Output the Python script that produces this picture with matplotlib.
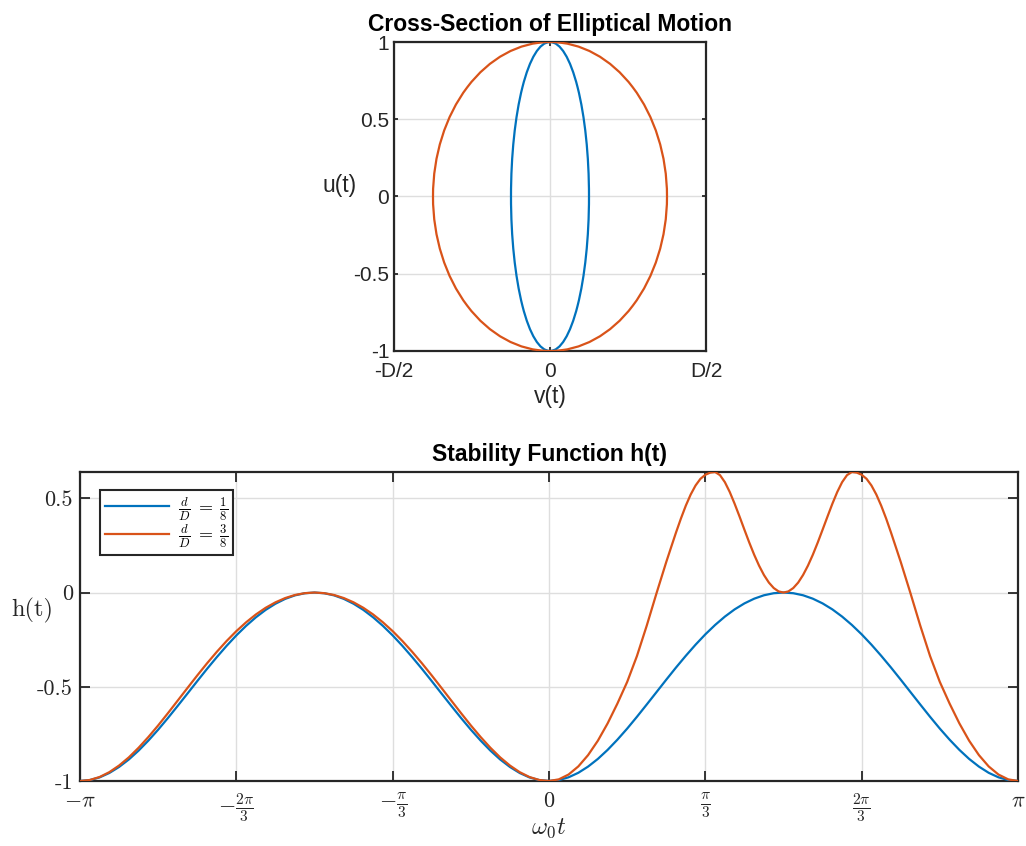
import matplotlib
matplotlib.use("Agg")
import matplotlib.pyplot as plt
from matplotlib.patches import Ellipse
import numpy as np

plt.rcParams['mathtext.fontset'] = 'cm'
plt.rcParams['axes.unicode_minus'] = False

# ---------------- data ----------------
ratios = [1/8, 3/8]                      # d/D for the two cases
legend_labels = [r'$\frac{d}{D}\;=\;\frac{1}{8}$', r'$\frac{d}{D}\;=\;\frac{3}{8}$']
colors = ['#0072BD', '#D95319']

# omega_0 t in units of pi (blue sampled every pi/48)
t_blue = [-1, -0.9792, -0.9583, -0.9375, -0.9167, -0.8958, -0.875, -0.8542, -0.8333, -0.8125,
          -0.7917, -0.7708, -0.75, -0.7292, -0.7083, -0.6875, -0.6667, -0.6458, -0.625, -0.6042,
          -0.5833, -0.5625, -0.5417, -0.5208, -0.5, -0.4792, -0.4583, -0.4375, -0.4167, -0.3958,
          -0.375, -0.3542, -0.3333, -0.3125, -0.2917, -0.2708, -0.25, -0.2292, -0.2083, -0.1875,
          -0.1667, -0.1458, -0.125, -0.1042, -0.0833, -0.0625, -0.0417, -0.0208,
          0, 0.0208, 0.0417, 0.0625, 0.0833, 0.1042, 0.125, 0.1458, 0.1667, 0.1875, 0.2083,
          0.2292, 0.25, 0.2708, 0.2917, 0.3125, 0.3333, 0.3542, 0.375, 0.3958, 0.4167, 0.4375,
          0.4583, 0.4792, 0.5, 0.5208, 0.5417, 0.5625, 0.5833, 0.6042, 0.625, 0.6458, 0.6667,
          0.6875, 0.7083, 0.7292, 0.75, 0.7708, 0.7917, 0.8125, 0.8333, 0.8542, 0.875, 0.8958,
          0.9167, 0.9375, 0.9583, 0.9792, 1]
h_blue = [-1, -0.9952, -0.9810, -0.9575, -0.9255, -0.8856, -0.8386, -0.7855, -0.7275, -0.6657,
          -0.6014, -0.5358, -0.47, -0.4052, -0.3426, -0.2831, -0.2275, -0.1767, -0.1315, -0.0922,
          -0.0595, -0.0337, -0.0150, -0.0038, 0, -0.0038, -0.0150, -0.0337, -0.0595, -0.0922,
          -0.1315, -0.1767, -0.2275, -0.2831, -0.3426, -0.4052, -0.47, -0.5358, -0.6014, -0.6657,
          -0.7275, -0.7855, -0.8386, -0.8856, -0.9255, -0.9575, -0.9810, -0.9952,
          -1, -0.9951, -0.9804, -0.9565, -0.9236, -0.8828, -0.8348, -0.7808, -0.7219, -0.6593,
          -0.5944, -0.5284, -0.4625, -0.3979, -0.3356, -0.2767, -0.2219, -0.1720, -0.1277,
          -0.0894, -0.0576, -0.0326, -0.0145, -0.0036, 0, -0.0036, -0.0145, -0.0326, -0.0576,
          -0.0894, -0.1277, -0.1720, -0.2219, -0.2767, -0.3356, -0.3979, -0.4625, -0.5284,
          -0.5944, -0.6593, -0.7219, -0.7808, -0.8348, -0.8828, -0.9236, -0.9565, -0.9804,
          -0.9951, -1]

# orange: every pi/48, denser (pi/96) around the two peaks
t_orange = [-1, -0.9792, -0.9583, -0.9375, -0.9167, -0.8958, -0.875, -0.8542, -0.8333, -0.8125,
            -0.7917, -0.7708, -0.75, -0.7292, -0.7083, -0.6875, -0.6667, -0.6458, -0.625, -0.6042,
            -0.5833, -0.5625, -0.5417, -0.5208, -0.5, -0.4792, -0.4583, -0.4375, -0.4167, -0.3958,
            -0.375, -0.3542, -0.3333, -0.3125, -0.2917, -0.2708, -0.25, -0.2292, -0.2083, -0.1875,
            -0.1667, -0.1458, -0.125, -0.1042, -0.0833, -0.0625, -0.0417, -0.0208,
            0, 0.0208, 0.0417, 0.0625, 0.0833, 0.1042, 0.125, 0.1458, 0.1667, 0.1875, 0.2083,
            0.2292, 0.25,
            0.2604, 0.2708, 0.2813, 0.2917, 0.3021, 0.3125, 0.3229, 0.3333, 0.3438, 0.3542,
            0.3646, 0.375, 0.3854, 0.3958, 0.4063, 0.4167, 0.4271, 0.4375, 0.4479, 0.4583,
            0.4688, 0.4792, 0.4896, 0.5,
            0.5104, 0.5208, 0.5313, 0.5417, 0.5521, 0.5625, 0.5729, 0.5833, 0.5938, 0.6042,
            0.6146, 0.625, 0.6354, 0.6458, 0.6563, 0.6667, 0.6771, 0.6875, 0.6979, 0.7083,
            0.7188, 0.7292, 0.7396, 0.75,
            0.7708, 0.7917, 0.8125, 0.8333, 0.8542, 0.875, 0.8958, 0.9167, 0.9375, 0.9583,
            0.9792, 1]
h_orange = [-1, -0.9947, -0.9789, -0.9531, -0.9180, -0.8745, -0.8235, -0.7666, -0.705, -0.6401,
            -0.5734, -0.5063, -0.44, -0.3758, -0.3146, -0.2574, -0.205, -0.1579, -0.1164, -0.0811,
            -0.0520, -0.0293, -0.0130, -0.0033, 0, -0.0033, -0.0130, -0.0293, -0.0520, -0.0811,
            -0.1164, -0.1579, -0.205, -0.2574, -0.3146, -0.3758, -0.44, -0.5063, -0.5734,
            -0.6401, -0.705, -0.7666, -0.8235, -0.8745, -0.9180, -0.9531, -0.9789, -0.9947,
            -1, -0.9914, -0.9657, -0.9227, -0.8627, -0.7861, -0.6943, -0.5894, -0.4742, -0.3369,
            -0.1764, -0.0041, 0.162,
            0.2405, 0.3185, 0.3929, 0.4610, 0.5201, 0.5681, 0.6034, 0.6248, 0.6363, 0.6396,
            0.6229, 0.5857, 0.5334, 0.4711, 0.4031, 0.3332, 0.2647, 0.2004, 0.1426, 0.0930,
            0.0529, 0.0238, 0.0059, 0,
            0.0059, 0.0238, 0.0529, 0.0930, 0.1426, 0.2004, 0.2647, 0.3332, 0.4031, 0.4711,
            0.5334, 0.5857, 0.6229, 0.6396, 0.6363, 0.6248, 0.6034, 0.5681, 0.5201, 0.4610,
            0.3929, 0.3185, 0.2405, 0.162,
            -0.0041, -0.1764, -0.3369, -0.4742, -0.5894, -0.6943, -0.7861, -0.8627, -0.9227,
            -0.9657, -0.9914, -1]

top_xticks = [-0.5, 0, 0.5]
top_xticklabels = ['-D/2', '0', 'D/2']
top_yticks = [-1, -0.5, 0, 0.5, 1]
top_yticklabels = ['-1', '-0.5', '0', '0.5', '1']

bot_xticks = [-1, -2/3, -1/3, 0, 1/3, 2/3, 1]
bot_xticklabels = [r'$-\pi$', r'$-\frac{2\pi}{3}$', r'$-\frac{\pi}{3}$', r'$0$',
                   r'$\frac{\pi}{3}$', r'$\frac{2\pi}{3}$', r'$\pi$']
bot_yticks = [-1, -0.5, 0, 0.5]
bot_yticklabels = ['-1', '-0.5', '0', '0.5']

# ---------------- figure ----------------
W, H = 1026, 846
fig = plt.figure(figsize=(W / 100, H / 100), dpi=100)
fig.patch.set_facecolor('white')

spine_c = '#262626'
grid_c = '#dedede'
sans = ['Liberation Sans', 'DejaVu Sans']

def style_axes(ax, ticklen):
    for s in ax.spines.values():
        s.set_color(spine_c)
        s.set_linewidth(1.6)
    ax.tick_params(direction='in', top=True, right=True, length=ticklen, width=1.3,
                   color=spine_c, labelcolor=spine_c)
    ax.grid(True, color=grid_c, linewidth=1.0)
    ax.set_axisbelow(True)

# --- top axes ---
ax1 = fig.add_axes([394 / W, 1 - 351 / H, 312 / W, 309 / H])
for r, c in zip(ratios, colors):
    ax1.add_patch(Ellipse((0, 0), width=2 * r, height=2, fill=False, edgecolor=c,
                          linewidth=1.6, zorder=3))
ax1.set_xlim(-0.5, 0.5)
ax1.set_ylim(-1, 1)
ax1.set_xticks(top_xticks)
ax1.set_xticklabels(top_xticklabels, fontsize=15, family=sans)
ax1.set_yticks(top_yticks)
ax1.set_yticklabels(top_yticklabels, fontsize=15, family=sans)
style_axes(ax1, 3)
ax1.tick_params(axis='y', pad=3.5)
ax1.tick_params(axis='x', pad=8)
ax1.set_title('Cross-Section of Elliptical Motion', fontsize=16.5, fontweight='bold',
              family=sans, pad=8, color='black')
ax1.set_xlabel('v(t)', fontsize=16.5, family=sans, color=spine_c)
ax1.xaxis.set_label_coords(0.5, -0.146)
ax1.xaxis.label.set_va('center')
ax1.set_ylabel('u(t)', fontsize=16.5, family=sans, rotation=0, ha='center', va='center',
               color=spine_c)
ax1.yaxis.set_label_coords(-0.173, 0.534)

# --- bottom axes ---
ax2 = fig.add_axes([80 / W, 1 - 781 / H, 938 / W, 309 / H])
ax2.plot(np.array(t_blue) * np.pi, h_blue, color=colors[0], linewidth=1.6,
         label=legend_labels[0], zorder=3)
ax2.plot(np.array(t_orange) * np.pi, h_orange, color=colors[1], linewidth=1.6,
         label=legend_labels[1], zorder=3)
ax2.set_xlim(-np.pi, np.pi)
ax2.set_ylim(min(h_blue + h_orange), max(h_blue + h_orange))
ax2.set_xticks(np.array(bot_xticks) * np.pi)
ax2.set_xticklabels(bot_xticklabels, fontsize=16)
ax2.set_yticks(bot_yticks)
ax2.set_yticklabels(bot_yticklabels, fontsize=16, family='cmr10')
style_axes(ax2, 7)
ax2.tick_params(axis='y', pad=5)
ax2.tick_params(axis='x', pad=7)
ax2.set_title('Stability Function h(t)', fontsize=16.5, fontweight='bold', family=sans,
              pad=8, color='black')
ax2.set_xlabel(r'$\omega_0 t$', fontsize=17.5, color=spine_c)
ax2.xaxis.set_label_coords(0.5, -0.152)
ax2.xaxis.label.set_va('center')
ax2.set_ylabel('h(t)', fontsize=17.5, family='cmr10', rotation=0, ha='center',
               va='center', color=spine_c)
ax2.yaxis.set_label_coords(-0.0512, 0.553)

leg = ax2.legend(loc='upper left', bbox_to_anchor=((100 - 80) / 938, (781 - 490) / 309),
                 borderaxespad=0, fontsize=13, handlelength=3.5, fancybox=False,
                 framealpha=1, edgecolor=spine_c, labelspacing=0.0, borderpad=0.3,
                 handletextpad=0.5)
leg.get_frame().set_linewidth(1.5)

fig.savefig('out.png', dpi=100, facecolor='white')
